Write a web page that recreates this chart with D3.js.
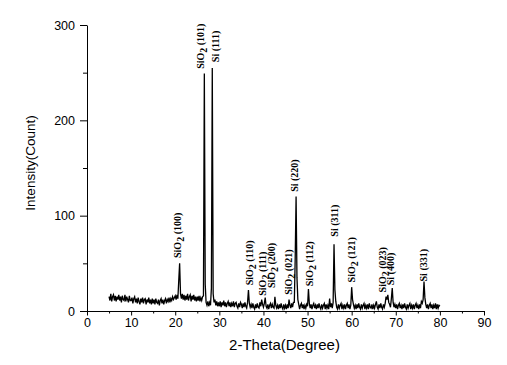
<!DOCTYPE html>
<html>
<head>
<meta charset="utf-8">
<script src="https://cdn.jsdelivr.net/npm/d3@7"></script>
<style>
  html, body { margin: 0; padding: 0; background: #ffffff; }
  svg { display: block; }
</style>
</head>
<body>
<div id="chart"></div>
<script>
// ---- Data ----
// 2-Theta grid: starts at 5°, 0.2° step
const thetaStart = 5.0;
const thetaStep = 0.2;
// Intensity (counts), 5.0° .. 80.0°
const intensity = [
  // 5.0 - 9.8
  15,11,18,10,15,17,11,16,10,15,12,17,11,15,9,16,12,11,17,10,15,12,9,16,11,
  // 10.0 - 14.8
  11,14,8,13,15,9,13,8,14,10,7,13,9,14,8,12,13,7,12,9,14,8,12,7,13,
  // 15.0 - 19.8
  8,12,7,13,9,8,12,6,11,13,8,12,7,11,13,8,12,10,14,9,13,11,15,12,14,
  // 20.0 - 24.8
  16,12,17,13,32,50,18,13,18,12,17,11,16,12,18,11,15,17,10,16,12,17,11,15,10,
  // 25.0 - 29.8
  15,11,16,10,14,11,15,16,249,28,9,6,10,5,9,6,24,255,18,9,12,6,10,5,9,
  // 30.0 - 34.8
  5,10,4,9,6,11,5,9,4,8,10,5,9,4,8,5,10,4,8,9,5,3,8,4,9,
  // 35.0 - 39.8
  7,3,8,4,9,5,3,9,22,8,4,7,3,8,4,2,7,3,8,4,3,9,5,12,7,
  // 40.0 - 44.8
  4,8,14,5,3,7,2,6,8,3,7,4,3,15,6,3,6,2,7,3,8,4,2,7,3,
  // 45.0 - 49.8
  6,2,7,3,12,6,3,8,4,9,9,55,120,35,12,7,2,6,8,3,7,2,6,3,7,
  // 50.0 - 54.8
  5,23,8,3,7,2,6,8,3,6,2,7,3,8,4,2,7,3,6,8,2,7,3,6,2,
  // 55.0 - 59.8
  13,4,8,3,9,70,22,10,4,2,7,3,6,8,2,6,3,7,2,6,8,3,7,2,6,
  // 60.0 - 64.8
  25,12,7,3,6,2,7,3,8,4,2,7,3,6,8,2,6,3,7,2,8,4,3,7,2,
  // 65.0 - 69.8
  6,3,7,10,4,2,7,3,8,4,2,7,4,8,15,12,17,9,7,4,13,24,9,4,7,
  // 70.0 - 74.8
  3,7,2,6,8,3,6,2,7,3,8,4,2,7,3,6,8,2,6,3,7,2,6,8,3,
  // 75.0 - 79.8
  6,2,7,3,10,8,12,31,14,7,3,7,2,6,8,3,7,2,6,3,8,2,7,3,6,
  // 80.0
  5
];

// Peak labels: phase, subscript, plane, label theta, label base (counts)
const labelPhase = ["SiO","SiO","Si","SiO","SiO","SiO","SiO","Si","SiO","Si","SiO","SiO","Si","Si"];
const labelSub   = ["2","2","","2","2","2","2","","2","","2","2","",""];
const labelPlane = ["(100)","(101)","(111)","(110)","(111)","(200)","(021)","(220)","(112)","(311)","(121)","(023)","(400)","(331)"];
const labelTheta = [21.3, 26.5, 29.9, 37.6, 40.6, 42.6, 46.5, 47.9, 51.2, 57.0, 60.75, 67.8, 69.6, 77.0];
const labelBase  = [55.6, 254, 261, 27, 16, 24, 17, 125, 26, 78, 30, 19.5, 27, 31];

const xTicks = [0,10,20,30,40,50,60,70,80,90];
const xMinorTicks = [5,15,25,35,45,55,65,75,85];
const yTicks = [0,100,200,300];
const yMinorTicks = [50,150,250];

const xTitle = "2-Theta(Degree)";
const yTitle = "Intensity(Count)";

// ---- Layout ----
const W = 507, H = 365;
const margin = {top: 25, right: 23, bottom: 54, left: 87};
const iw = W - margin.left - margin.right;
const ih = H - margin.top - margin.bottom;

const svg = d3.select("#chart").append("svg")
  .attr("width", W).attr("height", H);

const g = svg.append("g").attr("transform", `translate(${margin.left},${margin.top})`);

const x = d3.scaleLinear().domain([0, 90]).range([0, iw]);
const y = d3.scaleLinear().domain([0, 300]).range([ih, 0]);

const tickFont = "'Liberation Sans', Arial, sans-serif";

// Minor ticks
g.append("g").attr("transform", `translate(0,${ih})`)
  .call(d3.axisBottom(x).tickValues(xMinorTicks).tickSize(2.5).tickSizeOuter(0).tickFormat(""))
  .call(a => a.select(".domain").remove());
g.append("g")
  .call(d3.axisLeft(y).tickValues(yMinorTicks).tickSize(4).tickSizeOuter(0).tickFormat(""))
  .call(a => a.select(".domain").remove());

// Major axes
const xAxis = g.append("g").attr("transform", `translate(0,${ih})`)
  .call(d3.axisBottom(x).tickValues(xTicks).tickSize(4.5).tickSizeOuter(0).tickPadding(3).tickFormat(d3.format("d")));
const yAxis = g.append("g")
  .call(d3.axisLeft(y).tickValues(yTicks).tickSize(7).tickSizeOuter(0).tickPadding(5).tickFormat(d3.format("d")));

[xAxis, yAxis].forEach(a => {
  a.selectAll("text").attr("font-family", tickFont).attr("font-size", 12.5).attr("fill", "#000");
  a.selectAll("line").attr("stroke", "#000");
  a.select(".domain").attr("stroke", "#000");
});
g.selectAll(".tick line").attr("stroke", "#000");

// Data line
const pts = intensity.map((v, i) => [thetaStart + i * thetaStep, v]);
const line = d3.line().x(d => x(d[0])).y(d => y(d[1]));
g.append("path").datum(pts)
  .attr("fill", "none").attr("stroke", "#000").attr("stroke-width", 1.3)
  .attr("stroke-linejoin", "miter")
  .attr("d", line);

// Peak labels
const labFont = "'Liberation Serif', 'Times New Roman', serif";
labelPhase.forEach((ph, i) => {
  const t = g.append("text")
    .attr("transform", `translate(${x(labelTheta[i])},${y(labelBase[i])}) rotate(-90)`)
    .attr("font-family", labFont).attr("font-size", 10).attr("font-weight", "bold").attr("fill", "#000");
  t.append("tspan").text(ph);
  if (labelSub[i]) {
    t.append("tspan").attr("dy", 3).text(labelSub[i]);
    t.append("tspan").attr("dy", -3).text(" " + labelPlane[i]);
  } else {
    t.append("tspan").text(" " + labelPlane[i]);
  }
});

// Axis titles
svg.append("text")
  .attr("x", margin.left + iw / 2 - 1).attr("y", 350)
  .attr("text-anchor", "middle")
  .attr("font-family", tickFont).attr("font-size", 15).attr("fill", "#000")
  .text(xTitle);
svg.append("text")
  .attr("transform", `translate(35,${163}) rotate(-90)`)
  .attr("text-anchor", "middle")
  .attr("font-family", tickFont).attr("font-size", 13.5).attr("fill", "#000")
  .text(yTitle);
</script>
</body>
</html>
